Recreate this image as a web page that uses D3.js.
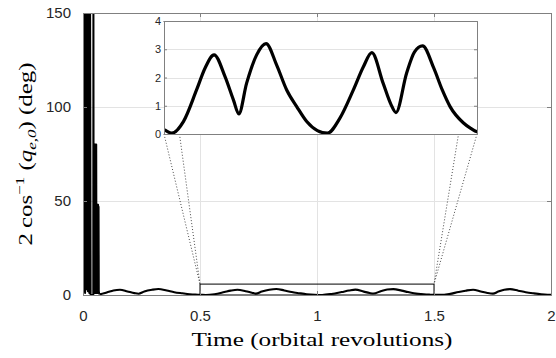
<!DOCTYPE html>
<html lang="en">
<head>
    <meta charset="UTF-8">
    <title>Attitude error</title>
    <script src="https://d3js.org/d3.v7.min.js"></script>
    <style>
        body {
            margin: 0;
            padding: 0;
            background: #fff;
        }
        svg text {
            fill: #262626;
        }
        .tick text {
            font-family: "Liberation Sans", Arial, sans-serif;
        }
        .label {
            font-family: "Liberation Serif", "DejaVu Serif", serif;
            fill: #000;
        }
    </style>
</head>
<body>
<svg width="556" height="358"></svg>
<script>
    // initial tumbling transient (orbital revolutions, deg) - values above 150 get clipped
    const transientTime = [0.000, 0.003, 0.006, 0.009, 0.012, 0.015, 0.018, 0.021, 0.024, 0.027,
                           0.030, 0.0325, 0.0440, 0.0445,
                           0.0455, 0.0465, 0.0475, 0.0485, 0.0495, 0.0505, 0.0515, 0.0525, 0.0535, 0.0545,
                           0.0555, 0.0565, 0.0575, 0.0585, 0.0595, 0.0605, 0.0615, 0.0625, 0.0635, 0.0645,
                           0.0655, 0.0665, 0.0675, 0.069, 0.072];
    const transientDeg = [176, 2, 178, 1, 177, 3, 179, 2, 178, 1,
                          177, 0, 0, 175,
                          1, 80, 2, 80, 1, 80, 2, 80, 1, 79,
                          2, 80, 1, 48, 2, 48, 1, 48, 2, 48,
                          1, 47, 2, 0.8, 0.4];

    // steady pointing error after the transient
    const steadyTime = [0.072, 0.090, 0.110, 0.130, 0.158, 0.190, 0.220, 0.237, 0.262, 0.295, 0.322,
                        0.358, 0.390, 0.424, 0.456, 0.480, 0.500, 0.525, 0.562, 0.604, 0.631,
                        0.660, 0.695, 0.722, 0.739, 0.764, 0.796, 0.826, 0.860, 0.892, 0.924,
                        0.956, 0.990, 1.022, 1.062, 1.105, 1.137, 1.164, 1.200, 1.225, 1.241,
                        1.275, 1.300, 1.326, 1.362, 1.389, 1.414, 1.456, 1.480, 1.500, 1.525,
                        1.565, 1.605, 1.635, 1.667, 1.700, 1.728, 1.752, 1.775, 1.800, 1.825,
                        1.860, 1.892, 1.925, 1.958, 1.985, 2.000];
    const steadyDeg = [0.4, 0.9, 1.7, 2.4, 2.8, 1.9, 1.0, 0.7, 1.9, 2.8, 3.2,
                       2.4, 1.5, 0.9, 0.4, 0.2, 0.15, 0.03, 0.44, 1.56, 2.33,
                       2.80, 2.03, 1.20, 0.71, 1.80, 2.80, 3.20, 2.44, 1.56, 0.97,
                       0.44, 0.12, 0.03, 0.56, 1.56, 2.38, 2.88, 1.80, 1.05, 0.76,
                       2.15, 2.90, 3.12, 2.33, 1.56, 0.97, 0.40, 0.20, 0.08, 0.05,
                       0.5, 1.6, 2.3, 2.8, 1.9, 1.1, 0.75, 1.8, 2.8, 3.1,
                       2.3, 1.5, 0.9, 0.4, 0.15, 0.1];

    const xTicks = [0, 0.5, 1, 1.5, 2];
    const yTicks = [0, 50, 100, 150];
    const insetYTicks = [0, 1, 2, 3, 4];

    // zoom window shown in the inset
    const zoomT = [0.5, 1.5];
    const zoomDeg = [0, 4];
    const zoomBoxTop = 5.8;

    const transient = transientTime.map((t, i) => ({t: t, v: transientDeg[i]}));
    const steady = steadyTime.map((t, i) => ({t: t, v: steadyDeg[i]}));

    const svg = d3.select("svg");
    const plot = {left: 83, right: 551, top: 13, bottom: 295};
    const inset = {left: 164, right: 477, top: 21, bottom: 134};

    const x = d3.scaleLinear().domain([0, 2]).range([plot.left, plot.right]);
    const y = d3.scaleLinear().domain([0, 150]).range([plot.bottom, plot.top]);
    const xi = d3.scaleLinear().domain(zoomT).range([inset.left, inset.right]);
    const yi = d3.scaleLinear().domain(zoomDeg).range([inset.bottom, inset.top]);

    const gridColor = "#e3e3e3";
    const boxColor = "#808080";

    svg.append("defs").append("clipPath").attr("id", "clip-main")
        .append("rect")
        .attr("x", plot.left).attr("y", plot.top)
        .attr("width", plot.right - plot.left).attr("height", plot.bottom - plot.top);
    svg.select("defs").append("clipPath").attr("id", "clip-inset")
        .append("rect")
        .attr("x", inset.left).attr("y", inset.top)
        .attr("width", inset.right - inset.left).attr("height", inset.bottom - inset.top);

    // main grid
    const main = svg.append("g");
    main.selectAll(".vgrid")
        .data(xTicks.filter(d => d > 0 && d < 2))
        .enter().append("line")
        .attr("x1", d => Math.round(x(d)) + 0.5).attr("x2", d => Math.round(x(d)) + 0.5)
        .attr("y1", plot.top).attr("y2", plot.bottom)
        .style("stroke", gridColor);
    main.selectAll(".hgrid")
        .data(yTicks.filter(d => d > 0 && d < 150))
        .enter().append("line")
        .attr("x1", plot.left).attr("x2", plot.right)
        .attr("y1", d => Math.round(y(d)) + 0.5).attr("y2", d => Math.round(y(d)) + 0.5)
        .style("stroke", gridColor);

    const line = d3.line().x(d => x(d.t)).y(d => y(d.v));
    const smooth = d3.line().x(d => x(d.t)).y(d => y(d.v)).curve(d3.curveMonotoneX);

    const curves = main.append("g").attr("clip-path", "url(#clip-main)");
    curves.append("path")
        .datum(transient)
        .attr("d", line)
        .style("fill", "none").style("stroke", "#000")
        .style("stroke-width", 2).style("stroke-linejoin", "round");
    curves.append("path")
        .datum(steady)
        .attr("d", smooth)
        .style("fill", "none").style("stroke", "#000")
        .style("stroke-width", 2.1).style("stroke-linejoin", "round");

    // zoom window rectangle
    main.append("rect")
        .attr("x", x(zoomT[0])).attr("y", y(zoomBoxTop))
        .attr("width", x(zoomT[1]) - x(zoomT[0]))
        .attr("height", y(0) - y(zoomBoxTop))
        .style("fill", "none").style("stroke", "#000").style("stroke-width", 1);

    // connector lines from the zoom window to the inset corners
    const connectors = [
        [xi(zoomT[0]), yi(zoomDeg[0]), x(zoomT[0]), y(zoomBoxTop)],
        [xi(zoomT[0]), yi(zoomDeg[1]), x(zoomT[0]), y(zoomBoxTop)],
        [xi(zoomT[1]), yi(zoomDeg[0]), x(zoomT[1]), y(zoomBoxTop)],
        [xi(zoomT[1]), yi(zoomDeg[1]), x(zoomT[1]), y(zoomBoxTop)]
    ];
    main.selectAll(".connector")
        .data(connectors)
        .enter().append("line")
        .attr("x1", d => d[0]).attr("y1", d => d[1])
        .attr("x2", d => d[2]).attr("y2", d => d[3])
        .style("stroke", "#333").style("stroke-width", 0.9)
        .style("stroke-dasharray", "1,2");

    // main axes (inward ticks, MATLAB style)
    const fmt = d => d3.format("~g")(d);
    main.append("g")
        .attr("transform", `translate(0,${plot.bottom})`)
        .call(d3.axisBottom(x).tickValues(xTicks).tickFormat(fmt).tickSize(-4).tickPadding(15))
        .call(g => g.selectAll("text").style("font-size", "15px"));
    main.append("g")
        .attr("transform", `translate(0,${plot.top})`)
        .call(d3.axisTop(x).tickValues(xTicks).tickFormat("").tickSize(-4));
    main.append("g")
        .attr("transform", `translate(${plot.left},0)`)
        .call(d3.axisLeft(y).tickValues(yTicks).tickFormat(fmt).tickSize(-4).tickPadding(12))
        .call(g => g.selectAll("text").style("font-size", "15px"));
    main.append("g")
        .attr("transform", `translate(${plot.right},0)`)
        .call(d3.axisRight(y).tickValues(yTicks).tickFormat("").tickSize(-4));
    main.selectAll(".domain, .tick line").style("stroke", boxColor);

    // inset
    const ins = svg.append("g");
    ins.append("rect")
        .attr("x", inset.left).attr("y", inset.top)
        .attr("width", inset.right - inset.left).attr("height", inset.bottom - inset.top)
        .style("fill", "#fff");
    ins.selectAll(".hgrid")
        .data(insetYTicks.filter(d => d > 0 && d < 4))
        .enter().append("line")
        .attr("x1", inset.left).attr("x2", inset.right)
        .attr("y1", d => Math.round(yi(d)) + 0.5).attr("y2", d => Math.round(yi(d)) + 0.5)
        .style("stroke", gridColor);

    const insetLine = d3.line().x(d => xi(d.t)).y(d => yi(d.v)).curve(d3.curveMonotoneX);
    ins.append("g").attr("clip-path", "url(#clip-inset)")
        .append("path")
        .datum(steady)
        .attr("d", insetLine)
        .style("fill", "none").style("stroke", "#000")
        .style("stroke-width", 3.2).style("stroke-linejoin", "round");

    ins.append("g")
        .attr("transform", `translate(${inset.left},0)`)
        .call(d3.axisLeft(yi).tickValues(insetYTicks).tickFormat(fmt).tickSize(-3).tickPadding(3))
        .call(g => g.selectAll("text").style("font-size", "11px"));
    ins.append("g")
        .attr("transform", `translate(${inset.right},0)`)
        .call(d3.axisRight(yi).tickValues(insetYTicks).tickFormat("").tickSize(-3));
    ins.append("g")
        .attr("transform", `translate(0,${inset.bottom})`)
        .call(d3.axisBottom(xi).tickValues([]).tickSizeOuter(0));
    ins.append("g")
        .attr("transform", `translate(0,${inset.top})`)
        .call(d3.axisTop(xi).tickValues([]).tickSizeOuter(0));
    ins.selectAll(".domain, .tick line").style("stroke", boxColor);

    // axis titles
    svg.append("text")
        .attr("class", "label")
        .attr("x", 322).attr("y", 346)
        .attr("text-anchor", "middle")
        .attr("textLength", 261).attr("lengthAdjust", "spacingAndGlyphs")
        .style("font-size", "18px")
        .text("Time (orbital revolutions)");

    const yl = svg.append("text")
        .attr("class", "label")
        .attr("transform", "translate(32,154) rotate(-90)")
        .attr("text-anchor", "middle")
        .attr("textLength", 183).attr("lengthAdjust", "spacingAndGlyphs")
        .style("font-size", "19px");
    yl.append("tspan").text("2\u2009cos");
    yl.append("tspan").attr("dy", -8).style("font-size", "13px").text("\u22121");
    yl.append("tspan").attr("dy", 8).text(" (");
    yl.append("tspan").style("font-style", "italic").text("q");
    yl.append("tspan").attr("dy", 4).style("font-size", "13px").style("font-style", "italic").text("e,0");
    yl.append("tspan").attr("dy", -4).text(") (deg)");
</script>
</body>
</html>
